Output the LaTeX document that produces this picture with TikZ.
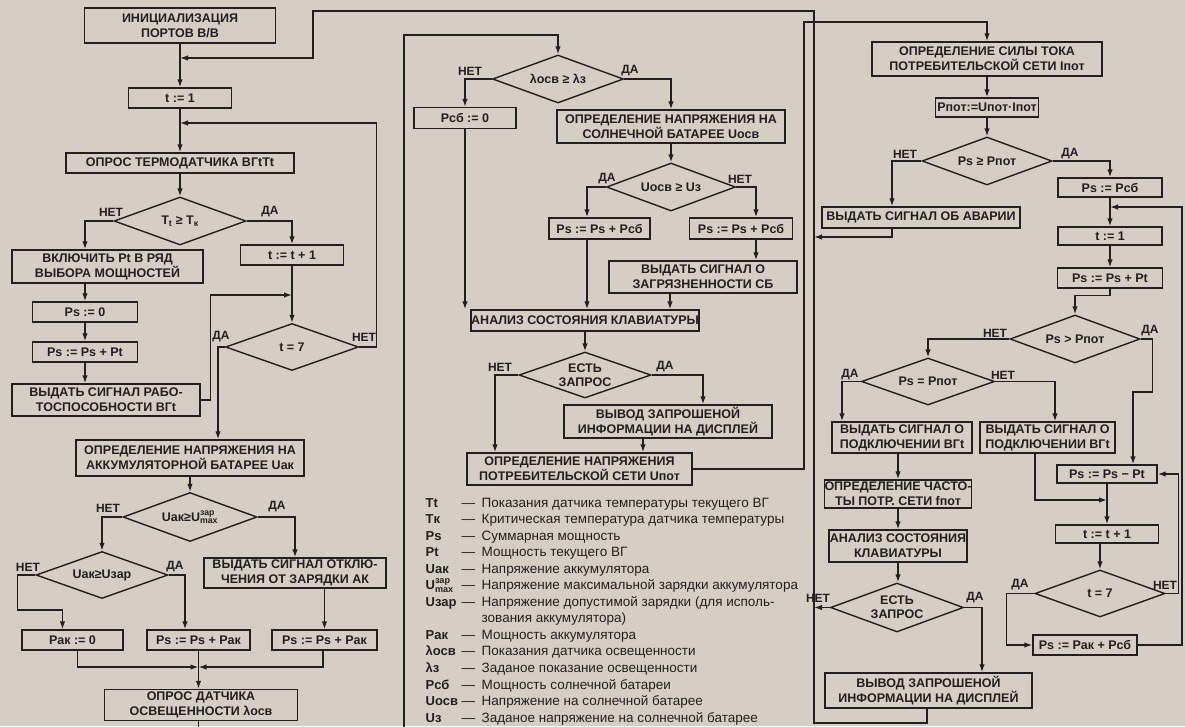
\documentclass[tikz,border=0pt]{standalone}
\usepackage{fontspec}
\setmainfont{Liberation Sans}
\usepackage{amsmath}
\usetikzlibrary{arrows.meta, shapes.geometric}

\definecolor{paper}{RGB}{212,207,196}
\definecolor{ink}{RGB}{34,32,30}

\begin{document}
\begin{tikzpicture}[x=1pt, y=-1pt, color=ink, line width=1.4pt,
  box/.style={draw, fill=paper, rectangle, inner sep=0pt, align=center,
    font=\fontsize{12.5}{15}\selectfont\bfseries},
  dia/.style={draw, fill=paper, diamond, inner sep=0pt},
  dtext/.style={align=center, inner sep=0pt, font=\fontsize{12.5}{14}\selectfont\bfseries},
  lbl/.style={inner sep=0pt, font=\fontsize{12}{14}\selectfont\bfseries},
  sz/.style n args={2}{minimum width=#1pt, minimum height=#2pt},
  arr/.style={-{Latex[length=8pt,width=5.5pt]}},
  key/.style={anchor=base west, inner sep=0pt, font=\fontsize{13}{16}\selectfont\bfseries},
  desc/.style={anchor=base west, inner sep=0pt, font=\fontsize{13.5}{16}\selectfont}]
\useasboundingbox (0,0) rectangle (1185,726);
\fill[paper] (0,0) rectangle (1185,726);

% column 1
\node[box, sz={191}{35}] (init) at (180,25.5) {ИНИЦИАЛИЗАЦИЯ\\ПОРТОВ В/В};
\node[box, sz={103}{20}] (t1) at (180,98) {t := 1};
\node[box, sz={228}{20}] (term) at (180,163) {ОПРОС ТЕРМОДАТЧИКА ВГtTt};
\node[dia, sz={132}{48}, label={[dtext]center:T\textsubscript{t} ≥ T\textsubscript{к}}] (dT) at (180,221) {};
\node[box, sz={191}{33}] (vkl) at (107.5,266.5) {ВКЛЮЧИТЬ Pt В РЯД\\ВЫБОРА МОЩНОСТЕЙ};
\node[box, sz={103}{20}] (tinc) at (292,255) {t := t + 1};
\node[box, sz={105}{20}] (ps0) at (85,312) {Ps := 0};
\node[box, sz={105}{20}] (psadd) at (85,352) {Ps := Ps + Pt};
\node[box, sz={188}{32}] (rab) at (106,400) {ВЫДАТЬ СИГНАЛ РАБО-\\ТОСПОСОБНОСТИ ВГt};
\node[dia, sz={133}{47}, label={[dtext]center:t = 7}] (d7) at (292,347) {};
\node[box, sz={228}{36}] (uak) at (190,458) {ОПРЕДЕЛЕНИЕ НАПРЯЖЕНИЯ НА\\АККУМУЛЯТОРНОЙ БАТАРЕЕ Uак};
\node[dia, sz={134}{49}, label={[dtext]center:Uак≥U$^{\text{зар}}_{\text{max}}$}] (dUmax) at (190,517) {};
\node[dia, sz={132}{47}, label={[dtext]center:Uак≥Uзар}] (dUzar) at (102,575) {};
\node[box, sz={182}{30}] (otkl) at (295,573) {ВЫДАТЬ СИГНАЛ ОТКЛЮ-\\ЧЕНИЯ ОТ ЗАРЯДКИ АК};
\node[box, sz={101}{20}] (pak0) at (72.5,640) {Pак := 0};
\node[box, sz={103}{20}] (psak1) at (198.5,640) {Ps := Ps + Pак};
\node[box, sz={105}{20}] (psak2) at (324.5,640) {Ps := Ps + Pак};
\node[box, sz={193}{31}] (osv) at (201,705) {ОПРОС ДАТЧИКА\\ОСВЕЩЕННОСТИ λосв};

% column 2
\node[dia, sz={131}{48}, label={[dtext]center:λосв ≥ λз}] (dL) at (558,79) {};
\node[box, sz={102}{21}] (rsb0) at (465,118) {Pсб := 0};
\node[box, sz={228}{33}] (uosv) at (671,126.5) {ОПРЕДЕЛЕНИЕ НАПРЯЖЕНИЯ НА\\СОЛНЕЧНОЙ БАТАРЕЕ Uосв};
\node[dia, sz={129}{48}, label={[dtext]center:Uосв ≥ Uз}] (dU) at (671,187) {};
\node[box, sz={101}{21}] (ps1) at (599.5,228.5) {Ps := Ps + Pсб};
\node[box, sz={103}{21}] (ps2) at (741,228.5) {Ps := Ps + Pсб};
\node[box, sz={188}{32}] (zagr) at (703,277) {ВЫДАТЬ СИГНАЛ О\\ЗАГРЯЗНЕННОСТИ СБ};
\node[box, sz={228}{21}] (klav) at (585,320.5) {АНАЛИЗ СОСТОЯНИЯ КЛАВИАТУРЫ};
\node[dia, sz={132}{46}, label={[dtext]center:ЕСТЬ\\ЗАПРОС}] (dZ) at (585,375) {};
\node[box, sz={208}{33}] (vyv) at (668,421.5) {ВЫВОД ЗАПРОШЕНОЙ\\ИНФОРМАЦИИ НА ДИСПЛЕЙ};
\node[box, sz={225}{32}] (upot) at (579.5,469) {ОПРЕДЕЛЕНИЕ НАПРЯЖЕНИЯ\\ПОТРЕБИТЕЛЬСКОЙ СЕТИ Uпот};

% column 3
\node[box, sz={230}{34}] (ipot) at (987,59) {ОПРЕДЕЛЕНИЕ СИЛЫ ТОКА\\ПОТРЕБИТЕЛЬСКОЙ СЕТИ Iпот};
\node[box, sz={103}{19}] (ppot) at (987,107.5) {Pпот:=Uпот·Iпот};
\node[dia, sz={130}{48}, label={[dtext]center:Ps ≥ Pпот}] (dP) at (987,161) {};
\node[box, sz={198}{21}] (avar) at (921,217.5) {ВЫДАТЬ СИГНАЛ ОБ АВАРИИ};
\node[box, sz={104}{19}] (pssb) at (1110,187.5) {Ps := Pсб};
\node[box, sz={104}{18}] (t1b) at (1110,236) {t := 1};
\node[box, sz={105}{20}] (psptb) at (1110,278) {Ps := Ps + Pt};
\node[dia, sz={130}{48}, label={[dtext]center:Ps > Pпот}] (dPg) at (1075,339) {};
\node[dia, sz={133}{47}, label={[dtext]center:Ps = Pпот}] (dPe) at (928,381.5) {};
\node[box, sz={140}{31}] (podk1) at (902,437.5) {ВЫДАТЬ СИГНАЛ О\\ПОДКЛЮЧЕНИИ ВГt};
\node[box, sz={135}{31}] (podk2) at (1047.5,437.5) {ВЫДАТЬ СИГНАЛ О\\ПОДКЛЮЧЕНИИ ВГt};
\node[box, sz={100}{18}] (psmt) at (1107,474) {Ps := Ps − Pt};
\node[box, sz={145}{28}] (freq) at (898,494) {ОПРЕДЕЛЕНИЕ ЧАСТО-\\ТЫ ПОТР. СЕТИ fпот};
\node[box, sz={138}{32}] (klav2) at (898,546) {АНАЛИЗ СОСТОЯНИЯ\\КЛАВИАТУРЫ};
\node[dia, sz={133}{49}, label={[dtext]center:ЕСТЬ\\ЗАПРОС}] (dZ2) at (897,607.5) {};
\node[box, sz={207}{35}] (vyv2) at (928.5,690.5) {ВЫВОД ЗАПРОШЕНОЙ\\ИНФОРМАЦИИ НА ДИСПЛЕЙ};
\node[box, sz={103}{18}] (tinc2) at (1107,534) {t := t + 1};
\node[dia, sz={130}{47}, label={[dtext]center:t = 7}] (d72) at (1100,593.5) {};
\node[box, sz={104}{20}] (psfin) at (1085,645) {Ps := Pак + Pсб};

% merge points
\coordinate (m1) at (180,58);
\coordinate (m2) at (180,123);
\coordinate (m3) at (292,295);
\coordinate (m4) at (198.5,667);
\coordinate (m5) at (814,237);
\coordinate (m6) at (814,607.5);
\coordinate (m7) at (1110,207);
\coordinate (m8) at (1107,500);

% connectors, column 1
\draw[arr] (init) -- (t1);
\draw[arr] (t1) -- (term);
\draw[arr] (term) -- (dT);
\draw[arr] (dT.west) -| ([xshift=-22.5pt]vkl.north);
\draw[arr] (dT.east) -| (tinc.north);
\draw[arr] (ps0.north |- vkl.south) -- (ps0.north);
\draw[arr] (ps0) -- (psadd);
\draw[arr] (psadd.south) -- (psadd.south |- rab.north);
\draw[arr] (rab.east) -- ++(10,0) |- (m3);
\draw[arr] (tinc) -- (d7);
\draw[arr] (d7.east) -- ++(17,0) |- (m2);
\draw[arr] (d7.west) -| ([xshift=28pt]uak.north);
\draw[arr] (uak) -- (dUmax);
\draw[arr] (dUmax.west) -| (dUzar.north);
\draw[arr] (dUmax.east) -| (otkl.north);
\draw[arr] (dUzar.west) -- ++(-18,0) -- ++(0,35) -| ([xshift=-10pt]pak0.north);
\draw[arr] (dUzar.east) -| ([xshift=-13.5pt]psak1.north);
\draw[arr] (psak2.north |- otkl.south) -- (psak2.north);
\draw[arr] ([xshift=5pt]pak0.south) |- (m4);
\draw[arr] ([xshift=-1.5pt]psak2.south) |- (m4);
\draw[arr] (psak1.south) -- (psak1.south |- osv.north);
\draw[arr] (psak1.south |- osv.south) -- (198.5,730) -| (404,35) -| (dL.north);

% connectors, column 2
\draw[arr] (dL.west) -| (rsb0.north);
\draw[arr] (dL.east) -| (uosv.north);
\draw[arr] (uosv) -- (dU);
\draw[arr] (dU.west) -| ([xshift=-12.5pt]ps1.north);
\draw[arr] (dU.east) -| ([xshift=15pt]ps2.north);
\draw[arr] ([xshift=15pt]ps2.south) -- ([xshift=15pt]ps2.south |- zagr.north);
\draw[arr] (rsb0.south) -- (rsb0.south |- klav.north);
\draw[arr] ([xshift=-12.5pt]ps1.south) -- ([xshift=-12.5pt]ps1.south |- klav.north);
\draw[arr] ([xshift=-33pt]zagr.south) -- ([xshift=-33pt]zagr.south |- klav.north);
\draw[arr] (klav) -- (dZ);
\draw[arr] (dZ.west) -| ([xshift=-84.5pt]upot.north);
\draw[arr] (dZ.east) -| ([xshift=35pt]vyv.north);
\draw[arr] ([xshift=-25pt]vyv.south) -- ([xshift=-25pt]vyv.south |- upot.north);
\draw[arr] (upot.east) -| (804,22) -| (ipot.north);

% connectors, column 3
\draw[arr] (ipot) -- (ppot);
\draw[arr] (ppot) -- (dP);
\draw[arr] (dP.west) -| ([xshift=-29pt]avar.north);
\draw[arr] ([xshift=-29pt]avar.south) |- (m5);
\draw[arr] (dP.east) -| (pssb.north);
\draw[arr] (pssb) -- (t1b);
\draw[arr] (t1b) -- (psptb);
\draw[arr] (psptb.south) -- ++(0,7) -| (dPg.north);
\draw[arr] (dPg.east) -- ++(12,0) -- ++(0,53) -| ([xshift=26pt]psmt.north);
\draw[arr] (dPg.west) -| (dPe.north);
\draw[arr] (dPe.west) -| ([xshift=-60pt]podk1.north);
\draw[arr] (dPe.east) -| ([xshift=7.5pt]podk2.north);
\draw[arr] ([xshift=-4pt]podk1.south) -- ([xshift=-4pt]podk1.south |- freq.north);
\draw[arr] (freq) -- (klav2);
\draw[arr] (klav2.south) -- (klav2.south |- dZ2.north);
\draw[arr] (dZ2.west) -- (m6);
\draw[arr] (dZ2.east) -| ([xshift=53.5pt]vyv2.north);
\draw[arr] ([xshift=-1.5pt]vyv2.south) |- (814,723) |- (313,11) |- (m1);
\draw[arr] ([xshift=-12.5pt]podk2.south) |- (m8);
\draw[arr] (psmt) -- (tinc2);
\draw[arr] (d72.north |- tinc2.south) -- (d72.north);
\draw[arr] (d72.west) -- ++(-28,0) |- (psfin.west);
\draw[arr] (d72.east) -- ++(13,0) |- (psmt.east);
\draw[arr] (psfin.east) -| (1182,207) -- (m7);

% branch labels
\foreach \t/\p [count=\i] in {НЕТ/{111,212}, ДА/{270,212}, ДА/{221,337}, НЕТ/{364,337},
    НЕТ/{108,508}, ДА/{277,507}, НЕТ/{28,567}, ДА/{175,567},
    НЕТ/{470,71}, ДА/{630,71}, ДА/{607,179}, НЕТ/{740,179}, НЕТ/{500,367}, ДА/{665,367},
    НЕТ/{905,154}, ДА/{1070,154}, НЕТ/{995,333}, ДА/{1150,331}, ДА/{850,375}, НЕТ/{1003,375},
    НЕТ/{818,598}, ДА/{975,598}, ДА/{1020,585}, НЕТ/{1165,585}}
  \node[lbl] (yn\i) at (\p) {\t};

% legend
\foreach \k/\m/\d [count=\i] in {Tt/—/Показания датчика температуры текущего ВГ,
    Tк/—/Критическая температура датчика температуры,
    Ps/—/Суммарная мощность,
    Pt/—/Мощность текущего ВГ,
    Uак/—/Напряжение аккумулятора,
    U$^{\text{зар}}_{\text{max}}$/—/Напряжение максимальной зарядки аккумулятора,
    Uзар/—/Напряжение допустимой зарядки (для исполь-,
    {}/{}/зования аккумулятора),
    Pак/—/Мощность аккумулятора,
    λосв/—/Показания датчика освещенности,
    λз/—/Заданое показание освещенности,
    Pсб/—/Мощность солнечной батареи,
    Uосв/—/Напряжение на солнечной батарее,
    Uз/—/Заданое напряжение на солнечной батарее} {
  \node[key] (key\i) at (425,{507+16.55*(\i-1)}) {\k};
  \node[desc] (dsh\i) at (461,{507+16.55*(\i-1)}) {\m};
  \node[desc] (dsc\i) at (481,{507+16.55*(\i-1)}) {\d};
}
\end{tikzpicture}
\end{document}
